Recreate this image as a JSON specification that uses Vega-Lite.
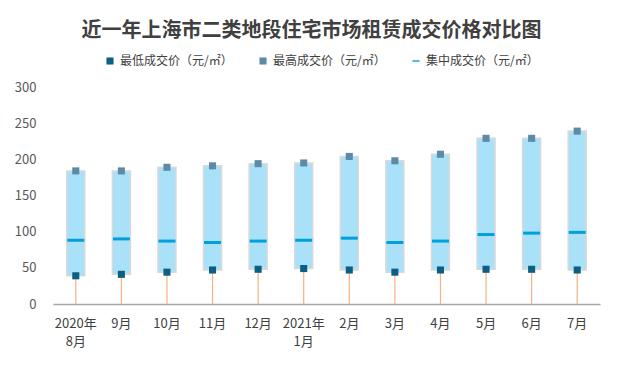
{
  "$schema": "https://vega.github.io/schema/vega-lite/v6.json",
  "width": 547,
  "height": 217,
  "autosize": {"type": "none"},
  "padding": {"left": 53, "top": 87, "right": 17, "bottom": 63},
  "background": "white",
  "title": {
    "text": "近一年上海市二类地段住宅市场租赁成交价格对比图",
    "font": "Noto Sans CJK SC",
    "fontSize": 20,
    "fontWeight": "bold",
    "color": "#404040",
    "anchor": "middle",
    "dx": -15,
    "offset": 14
  },
  "data": {
    "values": [
      {"month": "2020年|8月", "low": 39, "high": 184, "mid": 88},
      {"month": "9月", "low": 41, "high": 184, "mid": 90},
      {"month": "10月", "low": 44, "high": 189, "mid": 87},
      {"month": "11月", "low": 47, "high": 191, "mid": 85},
      {"month": "12月", "low": 48, "high": 194, "mid": 87},
      {"month": "2021年|1月", "low": 49, "high": 195, "mid": 88},
      {"month": "2月", "low": 47, "high": 204, "mid": 91},
      {"month": "3月", "low": 44, "high": 198, "mid": 85},
      {"month": "4月", "low": 47, "high": 207, "mid": 87},
      {"month": "5月", "low": 48, "high": 229, "mid": 96},
      {"month": "6月", "low": 48, "high": 229, "mid": 98},
      {"month": "7月", "low": 47, "high": 239, "mid": 99}
    ]
  },
  "encoding": {
    "x": {
      "field": "month",
      "type": "ordinal",
      "sort": null,
      "scale": {"paddingInner": 0, "paddingOuter": 0},
      "axis": {
        "title": null,
        "labelAngle": 0,
        "labelExpr": "split(datum.value, '|')",
        "labelFont": "Noto Sans CJK SC",
        "labelFontSize": 13,
        "labelColor": "#404040",
        "labelLineHeight": 18,
        "labelPadding": 13,
        "ticks": false,
        "domainColor": "#A6A6A6",
        "domainWidth": 1.5,
        "grid": false
      }
    }
  },
  "layer": [
    {
      "mark": {"type": "rule", "color": "#F4B183", "strokeWidth": 1.2},
      "encoding": {
        "y": {
          "field": "low",
          "type": "quantitative",
          "scale": {"domain": [0, 300], "nice": false},
          "axis": {
            "title": null,
            "values": [0, 50, 100, 150, 200, 250, 300],
            "tickCount": 7,
            "labelOverlap": false,
            "labelFlush": false,
            "domain": false,
            "ticks": false,
            "grid": false,
            "labelPadding": 17,
            "labelFont": "Noto Sans CJK SC",
            "labelFontSize": 13,
            "labelColor": "#595959"
          }
        },
        "y2": {"datum": 0}
      }
    },
    {
      "mark": {"type": "bar", "fill": "#A9E1F8", "stroke": "#D9D9D9", "strokeWidth": 1.5, "size": 18},
      "encoding": {
        "y": {
          "field": "low",
          "type": "quantitative",
          "axis": {
            "title": null,
            "values": [0, 50, 100, 150, 200, 250, 300],
            "tickCount": 7,
            "labelOverlap": false,
            "labelFlush": false,
            "domain": false,
            "ticks": false,
            "grid": false,
            "labelPadding": 17,
            "labelFont": "Noto Sans CJK SC",
            "labelFontSize": 13,
            "labelColor": "#595959"
          }
        },
        "y2": {"field": "high"}
      }
    },
    {
      "transform": [{"fold": ["low", "high"], "as": ["series", "value"]}],
      "mark": {"type": "point", "filled": true, "size": 50, "opacity": 1},
      "encoding": {
        "y": {
          "field": "value",
          "type": "quantitative",
          "axis": {
            "title": null,
            "values": [0, 50, 100, 150, 200, 250, 300],
            "tickCount": 7,
            "labelOverlap": false,
            "labelFlush": false,
            "domain": false,
            "ticks": false,
            "grid": false,
            "labelPadding": 17,
            "labelFont": "Noto Sans CJK SC",
            "labelFontSize": 13,
            "labelColor": "#595959"
          }
        },
        "color": {
          "field": "series",
          "type": "nominal",
          "scale": {"domain": ["low", "high", "mid"], "range": ["#0B5E84", "#5B8BA8", "#00A0DC"]},
          "legend": {
            "title": null,
            "orient": "none",
            "legendX": 51,
            "legendY": -32,
            "direction": "horizontal",
            "labelExpr": "datum.value == 'low' ? '最低成交价（元/㎡）' : datum.value == 'high' ? '最高成交价（元/㎡）' : '集中成交价（元/㎡）'",
            "labelFont": "Noto Sans CJK SC",
            "labelFontSize": 12,
            "labelColor": "#404040",
            "labelOffset": 4,
            "columnPadding": 24,
            "symbolSize": 50,
            "symbolOpacity": 1
          }
        },
        "shape": {
          "field": "series",
          "type": "nominal",
          "scale": {"domain": ["low", "high", "mid"], "range": ["square", "square", "M-1,-0.2H1V0.2H-1Z"]}
        }
      }
    },
    {
      "transform": [{"fold": ["mid"], "as": ["series", "value"]}],
      "mark": {"type": "tick", "thickness": 3, "size": 17, "opacity": 1},
      "encoding": {
        "y": {
          "field": "value",
          "type": "quantitative",
          "axis": {
            "title": null,
            "values": [0, 50, 100, 150, 200, 250, 300],
            "tickCount": 7,
            "labelOverlap": false,
            "labelFlush": false,
            "domain": false,
            "ticks": false,
            "grid": false,
            "labelPadding": 17,
            "labelFont": "Noto Sans CJK SC",
            "labelFontSize": 13,
            "labelColor": "#595959"
          }
        },
        "color": {"field": "series", "type": "nominal"}
      }
    }
  ],
  "config": {
    "view": {"stroke": null}
  }
}
